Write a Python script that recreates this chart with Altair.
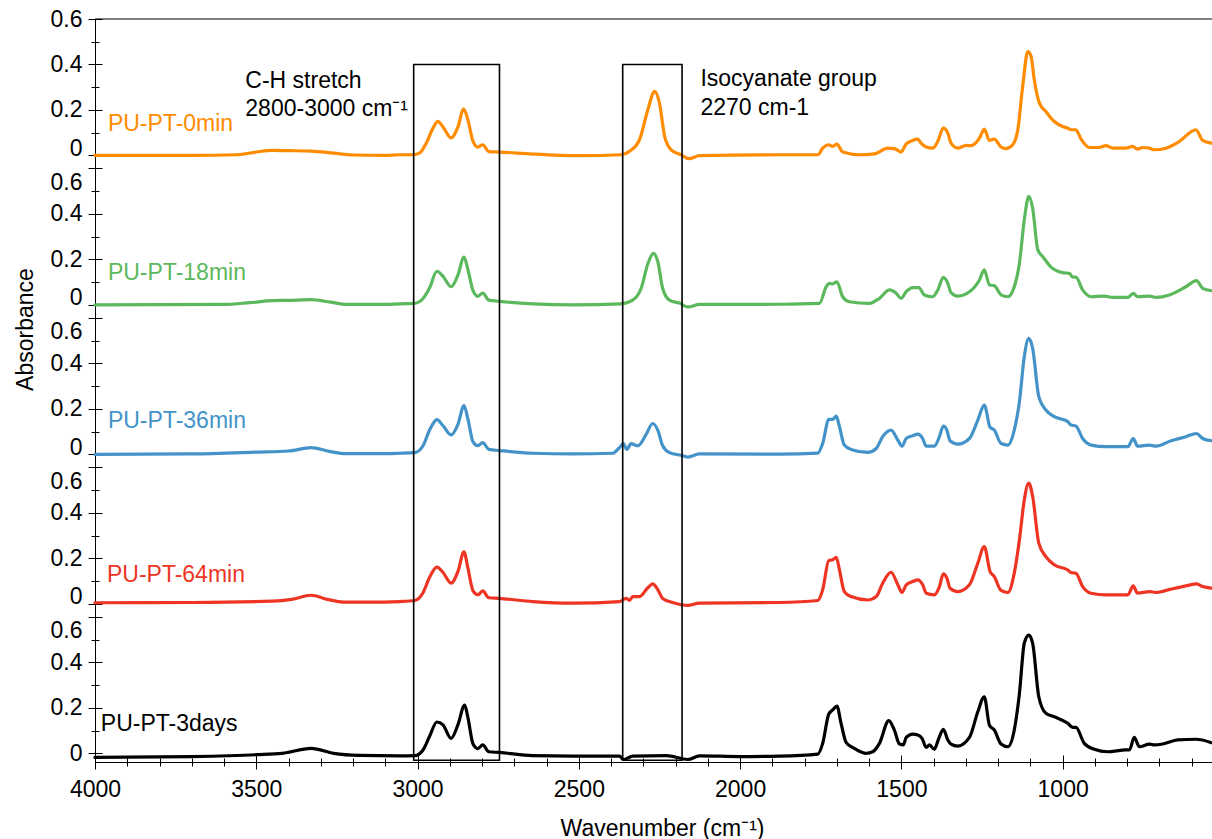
import altair as alt
import pandas as pd

FONT = "Liberation Sans, Arial, Helvetica, sans-serif"

SERIES = ["PU-PT-3days", "PU-PT-64min", "PU-PT-36min", "PU-PT-18min", "PU-PT-0min"]
COLORS = ["#000000", "#EE3524", "#4393C8", "#5CB85C", "#FF8C00"]

# (wavenumber cm-1, absorbance)
ORANGE = [(4000,0.0),(3700,0.0),(3560,0.003),(3500,0.015),(3450,0.022),(3400,0.021),(3330,0.019),(3260,0.01),(3200,0.002),(3100,0.0),
          (3056,0.003),(3014,0.003),(2994,0.01),(2973,0.054),(2952,0.12),(2937,0.15),(2921,0.125),(2896,0.077),(2875,0.125),(2857,0.204),
          (2844,0.157),(2828,0.062),(2813,0.037),(2798,0.047),(2779,0.017),(2746,0.015),(2643,0.006),(2498,-0.001),(2369,0.003),(2343,0.018),
          (2312,0.069),(2286,0.201),(2265,0.282),(2250,0.23),(2234,0.084),(2214,0.025),(2183,0.003),(2159,-0.014),(2126,-0.001),(1878,0.003),
          (1759,0.003),(1744,0.032),(1725,0.047),(1713,0.040),(1700,0.050),(1682,0.015),(1630,0.003),(1584,0.007),(1542,0.032),(1522,0.03),
          (1501,0.015),(1485,0.051),(1465,0.066),(1449,0.072),(1439,0.054),(1423,0.037),(1403,0.032),(1387,0.062),(1370,0.12),(1356,0.098),
          (1346,0.054),(1325,0.032),(1299,0.044),(1284,0.043),(1258,0.076),(1243,0.116),(1227,0.066),(1212,0.072),(1191,0.037),(1176,0.03),
          (1155,0.047),(1139,0.113),(1124,0.303),(1108,0.457),(1098,0.436),(1088,0.333),(1072,0.23),(1052,0.193),(1026,0.149),(1000,0.127),
          (984,0.12),(974,0.113),(959,0.113),(943,0.072),(917,0.035),(886,0.035),(866,0.043),(845,0.032),(804,0.032),(783,0.04),
          (768,0.028),(752,0.035),(731,0.032),(716,0.025),(680,0.032),(638,0.062),(587,0.113),(566,0.066),(539,0.054)]

GREEN = [(4000,0.0),(3600,0.002),(3520,0.01),(3450,0.019),(3400,0.02),(3330,0.023),(3270,0.012),(3220,0.002),(3100,0.002),(3056,0.005),
         (3009,0.007),(2983,0.028),(2963,0.074),(2940,0.148),(2921,0.126),(2896,0.08),(2875,0.131),(2856,0.21),(2844,0.156),(2828,0.063),
         (2813,0.038),(2798,0.052),(2779,0.021),(2746,0.016),(2643,0.005),(2519,0.0),(2369,0.005),(2333,0.021),(2307,0.072),(2286,0.181),
         (2269,0.227),(2255,0.19),(2240,0.072),(2219,0.021),(2188,0.008),(2162,-0.009),(2126,0.002),(1878,0.003),(1754,0.007),(1733,0.08),
         (1723,0.095),(1713,0.092),(1700,0.102),(1682,0.036),(1661,0.014),(1599,0.007),(1568,0.029),(1537,0.066),(1516,0.051),(1501,0.029),
         (1485,0.058),(1465,0.076),(1446,0.076),(1429,0.044),(1403,0.036),(1387,0.066),(1370,0.121),(1356,0.095),(1346,0.054),(1325,0.039),
         (1289,0.058),(1258,0.11),(1243,0.154),(1227,0.088),(1212,0.085),(1191,0.044),(1170,0.036),(1150,0.08),(1134,0.183),(1119,0.374),
         (1105,0.477),(1093,0.425),(1077,0.242),(1062,0.213),(1036,0.166),(1000,0.142),(979,0.139),(969,0.122),(959,0.122),(938,0.066),
         (912,0.036),(871,0.039),(845,0.033),(798,0.033),(781,0.051),(768,0.036),(731,0.039),(711,0.033),(669,0.044),(618,0.08),
         (585,0.107),(566,0.073),(539,0.063)]

BLUE = [(4000,0.0),(3700,0.002),(3500,0.01),(3400,0.015),(3330,0.03),(3270,0.012),(3220,0.003),(3100,0.003),(3056,0.005),(3009,0.008),
        (2983,0.038),(2963,0.106),(2940,0.153),(2921,0.126),(2896,0.086),(2875,0.131),(2856,0.215),(2844,0.156),(2828,0.055),(2813,0.038),
        (2798,0.052),(2779,0.022),(2746,0.017),(2643,0.005),(2519,0.002),(2395,0.005),(2374,0.03),(2362,0.047),(2351,0.022),(2338,0.047),
        (2317,0.038),(2291,0.089),(2271,0.136),(2255,0.106),(2240,0.038),(2219,0.008),(2183,-0.004),(2162,-0.012),(2126,0.002),(1878,0.001),
        (1759,0.006),(1744,0.048),(1725,0.154),(1713,0.154),(1702,0.168),(1692,0.122),(1677,0.041),(1656,0.022),(1604,0.009),(1578,0.026),
        (1558,0.078),(1532,0.107),(1511,0.063),(1498,0.036),(1485,0.07),(1465,0.082),(1449,0.089),(1434,0.07),(1423,0.036),(1398,0.036),
        (1382,0.078),(1370,0.125),(1359,0.107),(1349,0.06),(1325,0.045),(1289,0.07),(1263,0.151),(1243,0.217),(1225,0.119),(1212,0.107),
        (1191,0.048),(1170,0.041),(1150,0.107),(1134,0.232),(1119,0.43),(1105,0.51),(1093,0.466),(1074,0.254),(1052,0.195),(1026,0.166),
        (984,0.144),(974,0.129),(959,0.125),(938,0.07),(912,0.041),(866,0.034),(798,0.034),(781,0.07),(768,0.036),(731,0.041),
        (711,0.036),(664,0.06),(618,0.078),(585,0.092),(566,0.07),(539,0.06)]

RED = [(4000,0.005),(3700,0.006),(3450,0.012),(3390,0.02),(3330,0.038),(3280,0.02),(3230,0.008),(3100,0.008),(3056,0.01),(3009,0.015),
       (2983,0.049),(2963,0.116),(2940,0.162),(2921,0.138),(2896,0.091),(2875,0.142),(2856,0.229),(2844,0.158),(2828,0.057),(2813,0.04),
       (2798,0.057),(2779,0.027),(2746,0.024),(2643,0.01),(2519,0.003),(2374,0.01),(2353,0.024),(2343,0.015),(2333,0.032),(2312,0.032),
       (2286,0.071),(2271,0.088),(2255,0.062),(2240,0.024),(2209,0.006),(2162,-0.007),(2126,0.003),(1878,0.006),(1759,0.015),(1744,0.062),
       (1725,0.191),(1713,0.194),(1702,0.205),(1692,0.15),(1677,0.054),(1656,0.032),(1604,0.017),(1578,0.032),(1558,0.091),(1532,0.139),
       (1511,0.084),(1498,0.05),(1485,0.084),(1465,0.098),(1449,0.106),(1434,0.084),(1423,0.047),(1398,0.04),(1382,0.076),(1370,0.132),
       (1359,0.113),(1349,0.069),(1325,0.054),(1289,0.084),(1263,0.179),(1243,0.252),(1225,0.142),(1212,0.12),(1191,0.059),(1170,0.05),
       (1150,0.135),(1134,0.282),(1119,0.457),(1105,0.531),(1093,0.472),(1074,0.267),(1052,0.208),(1026,0.172),(984,0.149),(974,0.138),
       (959,0.135),(938,0.076),(912,0.047),(866,0.04),(798,0.04),(781,0.079),(768,0.047),(731,0.054),(711,0.05),(664,0.065),
       (618,0.079),(585,0.088),(566,0.076),(539,0.069)]

BLACK = [(4000,-0.018),(3700,-0.014),(3500,-0.006),(3420,0.0),(3330,0.022),(3260,0.0),(3180,-0.009),(3056,-0.011),(3009,-0.01),(2983,0.015),
         (2963,0.074),(2940,0.138),(2921,0.125),(2896,0.066),(2875,0.125),(2854,0.212),(2844,0.158),(2828,0.041),(2813,0.021),(2798,0.037),
         (2779,0.007),(2746,0.004),(2643,-0.01),(2519,-0.012),(2374,-0.012),(2362,-0.027),(2333,-0.012),(2229,-0.01),(2162,-0.027),(2126,-0.011),
         (2000,-0.014),(1878,-0.012),(1759,-0.003),(1744,0.044),(1725,0.173),(1713,0.191),(1700,0.208),(1687,0.132),(1671,0.047),(1646,0.022),
         (1609,0.0),(1589,0.007),(1568,0.044),(1539,0.144),(1522,0.103),(1506,0.041),(1494,0.037),(1485,0.07),(1465,0.085),(1449,0.081),
         (1436,0.066),(1423,0.026),(1413,0.037),(1398,0.018),(1384,0.066),(1370,0.106),(1356,0.059),(1346,0.041),(1325,0.032),(1289,0.07),
         (1263,0.183),(1243,0.249),(1227,0.124),(1212,0.103),(1191,0.041),(1170,0.029),(1150,0.103),(1134,0.264),(1119,0.484),(1105,0.52),
         (1093,0.484),(1074,0.249),(1052,0.176),(1026,0.161),(984,0.132),(969,0.114),(959,0.114),(933,0.044),(902,0.018),(861,0.007),
         (804,0.015),(793,0.015),(778,0.07),(762,0.029),(731,0.041),(716,0.037),(690,0.041),(643,0.059),(587,0.062),(539,0.047)]

SPECTRA = [BLACK, RED, BLUE, GREEN, ORANGE]

# series label positions (wavenumber, absorbance within its own panel)
LABEL_WN = [3982, 3963, 3960, 3960, 3960]
LABEL_ABS = [0.129, 0.128, 0.145, 0.140, 0.137]

# annotation texts (top panel coordinates)
NOTE_TEXT = ["C-H stretch", "2800-3000 cm\u207b\u00b9", "Isocyanate group", "2270 cm-1"]
NOTE_WN = [3534, 3534, 2123, 2123]
NOTE_ABS = [0.327, 0.203, 0.335, 0.210]

# highlight boxes
BOX_WN_LEFT = [3012, 2364]
BOX_WN_RIGHT = [2746, 2180]
BOX_BOTTOM_ABS = -0.03   # in bottom panel
BOX_TOP_ABS = 0.40       # in top panel

X_MAJOR = [4000, 3500, 3000, 2500, 2000, 1500, 1000]
X_MINOR = [3900, 3800, 3700, 3600, 3400, 3300, 3200, 3100, 2900, 2800, 2700, 2600,
           2400, 2300, 2200, 2100, 1900, 1800, 1700, 1600, 1400, 1300, 1200, 1100,
           900, 800, 700, 600]
Y_MAJOR_REL = [0, 0.2, 0.4, 0.6]
Y_MINOR_REL = [0.1, 0.3, 0.5]

STEP = 0.6573   # vertical offset between stacked panels
NP = len(SERIES)
TOP = NP - 1

W, H = 1117, 743
xscale = alt.Scale(domain=[4000, 537], nice=False, zero=False)
yscale = alt.Scale(domain=[-0.038, TOP * STEP + 0.6], nice=False, zero=False)
cscale = alt.Scale(domain=SERIES, range=COLORS)

rows = []
for k, (name, pts) in enumerate(zip(SERIES, SPECTRA)):
    for wn, a in pts:
        rows.append({"series": name, "panel": k, "wn": wn, "absorbance": a})
df = pd.DataFrame(rows)

labels_df = pd.DataFrame({"series": SERIES, "panel": list(range(NP)), "wn": LABEL_WN, "absorbance": LABEL_ABS})
notes_df = pd.DataFrame({"text": NOTE_TEXT, "wn": NOTE_WN, "absorbance": NOTE_ABS, "panel": [TOP] * len(NOTE_TEXT)})
boxes_df = pd.DataFrame({"left": BOX_WN_LEFT, "right": BOX_WN_RIGHT,
                         "bottom": [BOX_BOTTOM_ABS] * 2, "top": [BOX_TOP_ABS] * 2})

y_major = [round(k * STEP + v, 6) for k in range(NP) for v in Y_MAJOR_REL]
y_minor = [round(k * STEP + v, 6) for k in range(NP) for v in Y_MINOR_REL]

idx = f"floor((datum.value + 1e-6) / {STEP})"
rel = f"(datum.value - {idx} * {STEP})"
label_expr = f"abs({rel}) < 0.001 ? '0' : format({rel}, '.1f')"
offset_expr = (f"(abs({rel} - 0.6) < 0.001 && {idx} < {TOP}) ? 14 : "
               f"((abs({rel}) < 0.001 && {idx} > 0) ? -7 : 0)")

x_main = alt.Axis(values=X_MAJOR, format="d", tickSize=7, labelPadding=9, orient="bottom",
                  labelFlush=False, labelOverlap=False, labelBound=False,
                  title="Wavenumber (cm\u207b\u00b9)", titleX=567, titleY=73,
                  titleBaseline="alphabetic", titleAlign="center")
x_minor_out = alt.Axis(values=X_MINOR, tickSize=4, labels=False, domain=False, title=None, orient="bottom")
x_major_in = alt.Axis(values=X_MAJOR, tickSize=7, offset=-7, labels=False, domain=False, title=None, orient="bottom")
x_minor_in = alt.Axis(values=X_MINOR, tickSize=4, offset=-4, labels=False, domain=False, title=None, orient="bottom")

y_main = alt.Axis(values=y_major, labelExpr=label_expr, labelOffset={"expr": offset_expr},
                  tickSize=7, labelPadding=6, orient="left",
                  labelFlush=False, labelOverlap=False, labelBound=False,
                  title="Absorbance", titleX=-63, titleY=310, titleAngle=270,
                  titleBaseline="alphabetic", titleAlign="center")
y_minor_out = alt.Axis(values=y_minor, tickSize=4, labels=False, domain=False, title=None, orient="left")
y_major_in = alt.Axis(values=y_major, tickSize=7, offset=-7, labels=False, domain=False, title=None, orient="left")
y_minor_in = alt.Axis(values=y_minor, tickSize=4, offset=-4, labels=False, domain=False, title=None, orient="left")

stack_expr = f"datum.absorbance + datum.panel * {STEP}"

lines = alt.Chart(df).transform_calculate(ys=stack_expr).mark_line(
    strokeWidth=3.2, interpolate="monotone", strokeJoin="round", strokeCap="round"
).encode(
    x=alt.X("wn:Q", scale=xscale, axis=x_main),
    y=alt.Y("ys:Q", scale=yscale, axis=y_main),
    color=alt.Color("series:N", scale=cscale, legend=None),
)

series_labels = alt.Chart(labels_df).transform_calculate(ys=stack_expr).mark_text(
    align="left", baseline="middle", fontSize=23, font=FONT
).encode(
    x=alt.X("wn:Q", scale=xscale, axis=x_minor_out),
    y=alt.Y("ys:Q", scale=yscale, axis=y_minor_out),
    text="series:N",
    color=alt.Color("series:N", scale=cscale, legend=None),
)

notes = alt.Chart(notes_df).transform_calculate(ys=stack_expr).mark_text(
    align="left", baseline="middle", fontSize=23, font=FONT, color="black"
).encode(
    x=alt.X("wn:Q", scale=xscale, axis=x_major_in),
    y=alt.Y("ys:Q", scale=yscale, axis=y_major_in),
    text="text:N",
)

boxes = alt.Chart(boxes_df).transform_calculate(
    yb="datum.bottom", yt=f"datum.top + {TOP * STEP}"
).mark_rect(fill="transparent", stroke="black", strokeWidth=1.6).encode(
    x=alt.X("left:Q", scale=xscale, axis=x_minor_in),
    x2="right:Q",
    y=alt.Y("yb:Q", scale=yscale, axis=y_minor_in),
    y2="yt:Q",
)

top_rule = alt.Chart(pd.DataFrame({"a": [0]})).mark_rule(color="black", strokeWidth=1).encode(
    x=alt.value(0), x2=alt.value(W), y=alt.value(0)
)

chart = alt.layer(lines, series_labels, notes, boxes, top_rule).resolve_axis(
    x="independent", y="independent"
).properties(
    width=W, height=H,
    autosize=alt.AutoSizeParams(type="none"),
    padding={"left": 95, "top": 19, "right": 0, "bottom": 77},
).configure_axis(
    labelFont=FONT, titleFont=FONT, labelFontSize=23, titleFontSize=23,
    titleFontWeight="normal", labelColor="black", titleColor="black",
    tickColor="black", domainColor="black", grid=False, tickWidth=1, domainWidth=1,
).configure_view(stroke="transparent")

chart.save("out.html", embed_options={"renderer": "svg", "actions": False})
